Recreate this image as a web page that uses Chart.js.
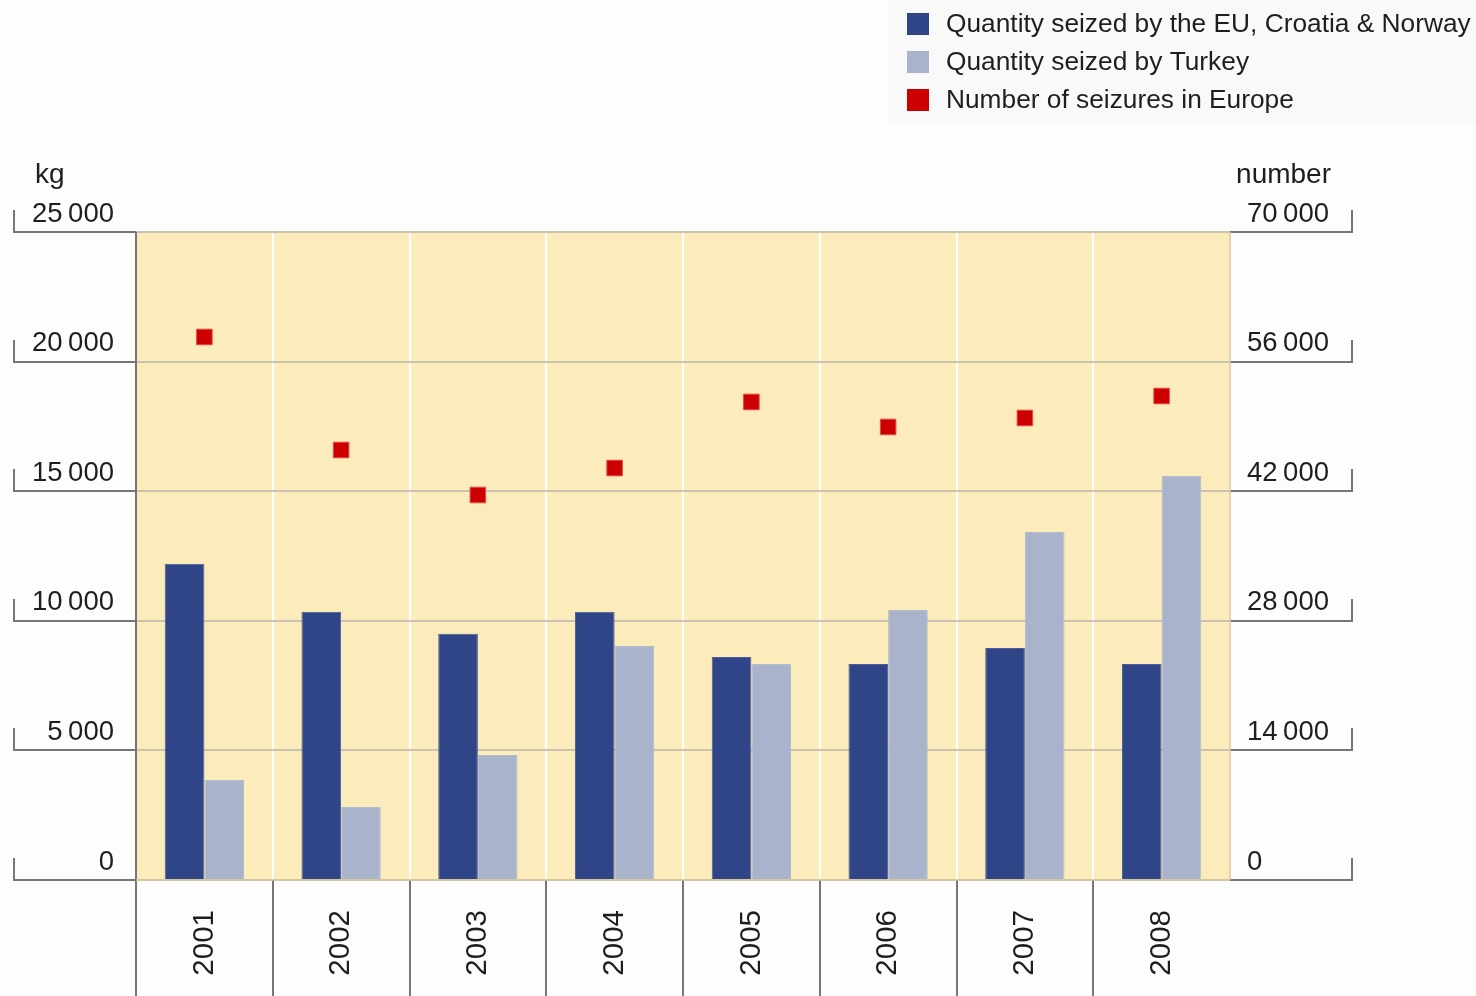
<!DOCTYPE html>
<html>
<head>
<meta charset="utf-8">
<script src="https://cdn.jsdelivr.net/npm/chart.js@4/dist/chart.umd.min.js"></script>
<style>
  html, body { margin: 0; padding: 0; background: #fdfdfd; }
  #wrap { position: relative; width: 1476px; height: 996px; }
</style>
</head>
<body>
<div id="wrap"><canvas id="seizureChart"></canvas></div>
<script>
// data
const years = ['2001', '2002', '2003', '2004', '2005', '2006', '2007', '2008'];
const euQuantity = [12200, 10350, 9500, 10350, 8600, 8330, 8950, 8330];
const turkeyQuantity = [3860, 2820, 4820, 9030, 8330, 10420, 13430, 15590];
const seizureCount = [58660, 46450, 41590, 44500, 51640, 48940, 49910, 52280];
const kgTicks = [0, 5000, 10000, 15000, 20000, 25000];
const numberTicks = [0, 14000, 28000, 42000, 56000, 70000];
const legendLabels = [
    'Quantity seized by the EU, Croatia & Norway',
    'Quantity seized by Turkey',
    'Number of seizures in Europe'
];

const colors = {
    eu: '#2f4587',
    turkey: '#a9b3cb',
    count: '#cc0000',
    plot: '#fdecbb',
    grid: '#cac3b0',
    line: '#767676',
    text: '#1e1e1e'
};
const FONT = '"Liberation Sans", Arial, sans-serif';

function fmt(v) {
    // thin space as thousands separator
    return String(v).replace(/\B(?=(\d{3})+(?!\d))/g, '\u2009');
}

const decorPlugin = {
    id: 'decor',
    beforeDraw(chart) {
        const { ctx, chartArea: a } = chart;
        ctx.save();
        ctx.fillStyle = '#fdfdfd';
        ctx.fillRect(0, 0, chart.width, chart.height);
        ctx.fillStyle = '#f9f9f9';
        ctx.fillRect(888, 0, chart.width - 888, 125);
        ctx.fillStyle = colors.plot;
        ctx.fillRect(a.left, a.top, a.right - a.left, a.bottom - a.top);
        ctx.restore();
    },
    afterDraw(chart) {
        const { ctx, chartArea: a, scales } = chart;
        ctx.save();
        ctx.strokeStyle = colors.line;
        ctx.lineWidth = 2;

        // bracket ticks on the left axis
        kgTicks.forEach(v => {
            const y = Math.round(scales.y.getPixelForValue(v));
            ctx.beginPath();
            ctx.moveTo(14, y - 22);
            ctx.lineTo(14, y);
            ctx.lineTo(a.left, y);
            ctx.stroke();
        });
        // bracket ticks on the right axis
        numberTicks.forEach(v => {
            const y = Math.round(scales.y1.getPixelForValue(v));
            ctx.beginPath();
            ctx.moveTo(a.right, y);
            ctx.lineTo(1352, y);
            ctx.lineTo(1352, y - 22);
            ctx.stroke();
        });

        // plot left border and category separators below the axis
        ctx.beginPath();
        ctx.moveTo(a.left, a.top);
        ctx.lineTo(a.left, chart.height);
        const xs = scales.x;
        for (let i = 1; i < years.length; i++) {
            const x = Math.round((xs.getPixelForTick(i - 1) + xs.getPixelForTick(i)) / 2);
            ctx.moveTo(x, a.bottom);
            ctx.lineTo(x, chart.height);
        }
        ctx.stroke();

        ctx.strokeStyle = '#d8c898';
        ctx.lineWidth = 1.5;
        ctx.beginPath();
        ctx.moveTo(a.right, a.top);
        ctx.lineTo(a.right, a.bottom);
        ctx.moveTo(a.left, a.bottom);
        ctx.lineTo(a.right, a.bottom);
        ctx.stroke();

        // axis titles
        ctx.fillStyle = colors.text;
        ctx.font = '28px ' + FONT;
        ctx.textBaseline = 'alphabetic';
        ctx.textAlign = 'left';
        ctx.fillText('kg', 35, 183);
        ctx.textAlign = 'right';
        ctx.fillText('number', 1331, 183);

        // legend
        const legendColors = [colors.eu, colors.turkey, colors.count];
        ctx.font = '26.3px ' + FONT;
        ctx.textAlign = 'left';
        ctx.textBaseline = 'middle';
        legendLabels.forEach((label, i) => {
            const cy = 24 + i * 38;
            ctx.fillStyle = legendColors[i];
            ctx.fillRect(907, cy - 11, 22, 22);
            ctx.fillStyle = colors.text;
            ctx.fillText(label, 946, cy + 1);
        });
        ctx.restore();
    }
};

function initChart() {
    const ctx = document.getElementById('seizureChart').getContext('2d');
    new Chart(ctx, {
        type: 'bar',
        data: {
            labels: years,
            datasets: [
                {
                    label: legendLabels[0],
                    data: euQuantity,
                    yAxisID: 'y',
                    backgroundColor: colors.eu,
                    borderColor: '#4a5d96',
                    borderWidth: 1,
                    order: 2
                },
                {
                    label: legendLabels[1],
                    data: turkeyQuantity,
                    yAxisID: 'y',
                    backgroundColor: colors.turkey,
                    borderColor: '#b3bbcf',
                    borderWidth: 1,
                    order: 2
                },
                {
                    type: 'line',
                    label: legendLabels[2],
                    data: seizureCount,
                    yAxisID: 'y1',
                    showLine: false,
                    pointStyle: 'rect',
                    pointRadius: 11,
                    pointBackgroundColor: colors.count,
                    pointBorderColor: '#e04a4a',
                    pointBorderWidth: 1,
                    order: 1
                }
            ]
        },
        options: {
            responsive: true,
            maintainAspectRatio: false,
            animation: false,
            events: [],
            layout: { padding: { top: 232, left: 0, right: 0, bottom: 0 } },
            datasets: {
                bar: { categoryPercentage: 0.58, barPercentage: 1.0 }
            },
            plugins: {
                legend: { display: false },
                tooltip: { enabled: false }
            },
            scales: {
                x: {
                    offset: true,
                    border: { display: false },
                    grid: {
                        offset: true,
                        color: '#ffffff',
                        lineWidth: 2,
                        drawTicks: false
                    },
                    ticks: {
                        color: colors.text,
                        font: { family: FONT, size: 29.5 },
                        minRotation: 90,
                        maxRotation: 90,
                        padding: 30
                    },
                    afterFit(scale) { scale.height = 116; }
                },
                y: {
                    position: 'left',
                    min: 0,
                    max: 25000,
                    border: { display: false },
                    grid: { color: colors.grid, lineWidth: 2, drawTicks: false },
                    ticks: {
                        stepSize: 5000,
                        color: colors.text,
                        font: { family: FONT, size: 27.5 },
                        padding: 22,
                        labelOffset: -18,
                        callback: v => fmt(v)
                    },
                    afterFit(scale) { scale.width = 136; }
                },
                y1: {
                    position: 'right',
                    min: 0,
                    max: 70000,
                    border: { display: false },
                    grid: { display: false, drawTicks: false },
                    ticks: {
                        stepSize: 14000,
                        color: colors.text,
                        font: { family: FONT, size: 27.5 },
                        padding: 17,
                        labelOffset: -18,
                        callback: v => fmt(v)
                    },
                    afterFit(scale) { scale.width = 246; }
                }
            }
        },
        plugins: [decorPlugin]
    });
}

window.addEventListener('load', initChart);
</script>
</body>
</html>
